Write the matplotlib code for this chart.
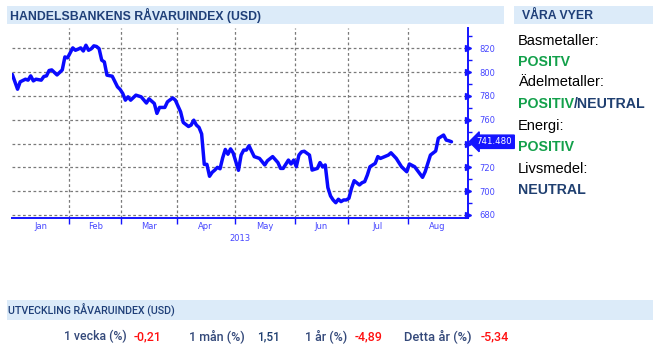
import matplotlib
matplotlib.use("Agg")
import matplotlib.pyplot as plt
import matplotlib.transforms as mtransforms
from matplotlib.patches import Rectangle
from matplotlib import font_manager
import numpy as np
import pandas as pd

# ---------------- data ----------------
dates = ["2013-01-02", "2013-01-04", "2013-01-07", "2013-01-09", "2013-01-10", "2013-01-11",
         "2013-01-14", "2013-01-15", "2013-01-17", "2013-01-18", "2013-01-21", "2013-01-22",
         "2013-01-23", "2013-01-25", "2013-01-29", "2013-01-30", "2013-01-31",
         "2013-02-04", "2013-02-05", "2013-02-06", "2013-02-07", "2013-02-08", "2013-02-11",
         "2013-02-12", "2013-02-13", "2013-02-14", "2013-02-15", "2013-02-18", "2013-02-19",
         "2013-02-20", "2013-02-21", "2013-02-25", "2013-02-27", "2013-02-28",
         "2013-03-01", "2013-03-04", "2013-03-05", "2013-03-06", "2013-03-08", "2013-03-12",
         "2013-03-14", "2013-03-15", "2013-03-19", "2013-03-20", "2013-03-21", "2013-03-25",
         "2013-03-26", "2013-03-28", "2013-03-29",
         "2013-04-02", "2013-04-03", "2013-04-05", "2013-04-08", "2013-04-09", "2013-04-10",
         "2013-04-11", "2013-04-12", "2013-04-15", "2013-04-16", "2013-04-17", "2013-04-18",
         "2013-04-19", "2013-04-22", "2013-04-23", "2013-04-24", "2013-04-25", "2013-04-26",
         "2013-04-29", "2013-04-30",
         "2013-05-02", "2013-05-03", "2013-05-06", "2013-05-07", "2013-05-08", "2013-05-10",
         "2013-05-14", "2013-05-16", "2013-05-17", "2013-05-21", "2013-05-23", "2013-05-24",
         "2013-05-27", "2013-05-29", "2013-05-30", "2013-05-31",
         "2013-06-03", "2013-06-04", "2013-06-05", "2013-06-06", "2013-06-10", "2013-06-11",
         "2013-06-13", "2013-06-14", "2013-06-17", "2013-06-18", "2013-06-19", "2013-06-20",
         "2013-06-21", "2013-06-24", "2013-06-25", "2013-06-26", "2013-06-27", "2013-06-28",
         "2013-07-01", "2013-07-02", "2013-07-03", "2013-07-05", "2013-07-08", "2013-07-09",
         "2013-07-10", "2013-07-11", "2013-07-15", "2013-07-16", "2013-07-17", "2013-07-22",
         "2013-07-23", "2013-07-25", "2013-07-29", "2013-07-31",
         "2013-08-01", "2013-08-05", "2013-08-08", "2013-08-09", "2013-08-13", "2013-08-15",
         "2013-08-16", "2013-08-20", "2013-08-21", "2013-08-22", "2013-08-23"]

index_values = [798.0, 785.6, 791.8, 794.0, 793.2, 796.8,
                792.6, 794.0, 793.2, 796.3, 796.8, 801.3,
                801.8, 797.6, 801.8, 812.7, 811.9,
                820.3, 818.3, 819.2, 820.3, 817.7, 822.5,
                818.3, 819.5, 822.0, 821.5, 819.7, 810.0,
                808.5, 797.4, 796.5, 787.6, 785.4,
                782.0, 776.4, 779.2, 776.4, 780.6, 779.2,
                774.0, 777.5, 773.6, 765.3, 770.3, 770.3,
                775.0, 778.3, 776.4,
                766.6, 757.7, 754.3, 755.5, 759.6, 755.5,
                753.5, 748.0, 722.5, 722.5, 712.5, 715.8,
                717.7, 720.0, 718.8, 728.0, 735.0, 731.0,
                735.5, 732.0,
                717.5, 730.3, 734.5, 734.5, 738.1, 729.0,
                727.5, 722.0, 725.5, 729.0, 724.0, 719.1,
                719.1, 726.1, 722.8, 726.1,
                720.5, 730.3, 733.0, 733.5, 730.3, 717.7,
                719.1, 724.0, 720.3, 722.0, 703.0, 696.0,
                692.6, 690.3, 693.2, 691.2, 692.6, 692.6,
                694.0, 702.4, 708.8, 705.2, 707.1, 708.0,
                713.5, 720.5, 723.3, 729.0, 727.5, 730.3,
                732.2, 727.5, 720.5, 716.3,
                722.8, 720.5, 711.6, 716.3, 730.3, 733.7,
                744.3, 747.1, 742.9, 742.3, 741.48]

last_value_label = "741.480"
month_labels = ["Jan", "Feb", "Mar", "Apr", "May", "Jun", "Jul", "Aug"]
year_label = "2013"
y_ticks = [680, 700, 720, 740, 760, 780, 800, 820]

views_labels = ["Basmetaller:", "Ädelmetaller:", "Energi:", "Livsmedel:"]
views_values = [["POSITV"], ["POSITIV", "/NEUTRAL"], ["POSITIV"], ["NEUTRAL"]]

perf_labels = ["1 vecka (%)", "1 mån (%)", "1 år (%)", "Detta år (%)"]
perf_values = ["-0,21", "1,51", "-4,89", "-5,34"]

# ---------------- styling ----------------
W, H = 653, 353
BLUE = "#0a0aff"
AXBLUE = "#1414ff"
TICKBLUE = "#4646ff"
HEADER_BG = "#dcebf9"
HEADER_TXT = "#1f3f78"
GREEN = "#12a04a"
NAVY = "#1f3f70"
SLATE = "#34497a"
RED = "#ff1010"

def have(name):
    try:
        font_manager.findfont(name, fallback_to_default=False)
        return True
    except Exception:
        return False

SANS = "Liberation Sans" if have("Liberation Sans") else "DejaVu Sans"
ROW = "Roboto" if have("Roboto") else SANS

fig = plt.figure(figsize=(W / 100, H / 100), dpi=100)
fig.patch.set_facecolor("white")
renderer = fig.canvas.get_renderer()

def fx(px):
    return px / W

def fy(py):
    return 1 - py / H

def bar(x0, y0, x1, y1):
    fig.add_artist(Rectangle((fx(x0), fy(y1)), fx(x1) - fx(x0), fy(y0) - fy(y1),
                             transform=fig.transFigure, facecolor=HEADER_BG,
                             edgecolor="none", zorder=0))

def fit_text(x0, x1, y, s, size, **kw):
    """Place text starting at pixel x0 and scale its size so it ends near x1."""
    t = fig.text(fx(x0), fy(y), s, size=size, va="center", ha="left", **kw)
    w = t.get_window_extent(renderer).width
    if w > 0:
        t.set_fontsize(size * (x1 - x0) / w)
    return t

# header bars
bar(7, 6, 504, 24)
bar(514, 6, 653, 24)
bar(7, 300, 653, 320)
fit_text(9.5, 258, 15.5, "HANDELSBANKENS RÅVARUINDEX (USD)", 9.1, family=SANS,
         weight="bold", color=HEADER_TXT)
fit_text(522.5, 593.5, 15.5, "VÅRA VYER", 9.1, family=SANS, weight="bold",
         color=HEADER_TXT)
fit_text(7.5, 175, 310.5, "UTVECKLING RÅVARUINDEX (USD)", 9.0, family=ROW,
         weight="medium", color=HEADER_TXT)

# ---------------- chart ----------------
bdays = pd.bdate_range("2013-01-02", "2013-08-30")
xpos = bdays.get_indexer(pd.to_datetime(dates))
month_starts = [bdays.get_indexer([bdays[bdays.month == m][0]])[0] for m in range(1, 9)]
bounds = [0] + [s - 0.5 for s in month_starts[1:]] + [len(bdays) - 0.5]
mids = [(bounds[i] + bounds[i + 1]) / 2 for i in range(8)]

left, right, top, bottom = 12.3, 468.3, 28.0, 218.3
ax = fig.add_axes([fx(left), fy(bottom), fx(right) - fx(left), fy(top) - fy(bottom)])
ax.set_facecolor("none")
ax.set_xlim(0, 173.4)
ax.set_ylim(677.2, 837.0)

ax.plot(xpos, index_values, color=BLUE, lw=2.5, solid_joinstyle="round",
        solid_capstyle="round", zorder=3)

grid_kw = dict(color="#7a7a7a", lw=0.9, ls=(0, (2.2, 2.0)), zorder=1)
for v in y_ticks:
    ax.axhline(v, **grid_kw)
for b in bounds[1:-1]:
    ax.axvline(b, **grid_kw)

for s in ["left", "top"]:
    ax.spines[s].set_visible(False)
for s in ["right", "bottom"]:
    ax.spines[s].set_color(AXBLUE)
    ax.spines[s].set_linewidth(1.4)

# y axis on right (the 740 label is hidden behind the current-value tag)
ax.yaxis.tick_right()
ax.set_yticks(y_ticks)
ax.set_yticklabels(["" if v == 740 else str(v) for v in y_ticks], color=TICKBLUE,
                   family="DejaVu Sans", size=6)
ax.set_yticks(np.arange(690, 840, 20), minor=True)
ax.tick_params(axis="y", which="major", length=0, pad=8)
ax.tick_params(axis="y", which="minor", length=3, width=1, color=AXBLUE, direction="out")
trans_y = mtransforms.blended_transform_factory(ax.transAxes, ax.transData)
ax.plot([1.0] * len(y_ticks), y_ticks, ls="none", marker=">", ms=4.5, color=AXBLUE,
        transform=trans_y, clip_on=False, zorder=4)

# current value tag
ax.text(1.018, index_values[-1], last_value_label, transform=trans_y, color="white",
        family="DejaVu Sans", size=6.2, va="center", ha="left",
        bbox=dict(boxstyle="larrow,pad=0.25", fc=AXBLUE, ec=AXBLUE), zorder=5)

# x axis
ax.set_xticks(bounds[1:-1])
ax.set_xticklabels([])
ax.set_xticks(mids, minor=True)
ax.set_xticklabels(month_labels, minor=True, color=TICKBLUE, family="DejaVu Sans", size=6)
ax.tick_params(axis="x", which="major", length=4, width=1, color=AXBLUE, direction="out")
ax.tick_params(axis="x", which="minor", length=0, pad=2.5)
ax.text(0.5, -0.082, year_label, transform=ax.transAxes, ha="center", va="top",
        color=TICKBLUE, family="DejaVu Sans", size=6)

# ---------------- views panel ----------------
label_y = [41, 82.5, 126.5, 169]
value_y = [62, 103.5, 146.5, 190]
for lab, ly, vals, vy in zip(views_labels, label_y, views_values, value_y):
    fig.text(fx(518), fy(ly), lab, family=SANS, size=10.5, color="black",
             va="center", ha="left")
    x = fx(518)
    for part in vals:
        col = NAVY if ("NEUTRAL" in part) else GREEN
        t = fig.text(x, fy(vy), part, family=SANS, size=10.2, weight="bold",
                     color=col, va="center", ha="left")
        bb = t.get_window_extent(renderer)
        x = fig.transFigure.inverted().transform((bb.x1, bb.y0))[0]

# ---------------- performance row ----------------
lab_x = [(64, 127), (189, 245), (305, 347), (404, 471)]
val_x = [(134, 162), (257, 280), (355, 383), (481, 509)]
row_y = 336.5
for lab, (l0, l1), val, (v0, v1) in zip(perf_labels, lab_x, perf_values, val_x):
    fit_text(l0, l1, row_y, lab, 10.0, family=ROW, weight="medium", color=SLATE)
    col = RED if val.startswith("-") else NAVY
    fit_text(v0, v1, row_y, val, 10.0, family=ROW, weight="medium", color=col)

fig.savefig("out.png", dpi=100, facecolor="white")
